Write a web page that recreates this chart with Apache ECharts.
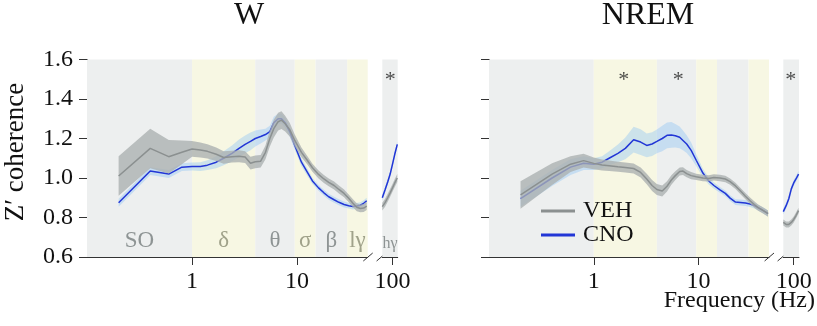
<!DOCTYPE html>
<html><head><meta charset="utf-8">
<script src="https://cdn.jsdelivr.net/npm/echarts@6/dist/echarts.min.js"></script>
<style>html,body{margin:0;padding:0;background:#fff}#c{width:817px;height:326px}</style>
</head><body><div id="c"></div>
<script>
// ---------- DATA ----------
// frequencies (Hz) of the main segment and of the high-gamma segment
const freqMain = [0.2,0.4,0.6,0.8,1.0,1.2,1.4,1.7,2.0,2.4,2.8,3.2,3.6,4.0,4.5,5.0,5.5,6.0,6.6,7.1,7.7,8.5,9.5,11,12.5,14,16,18,20,22.5,25,28,31,34,37,40,43,46];
const freqHG = [80,85,90,95,100,105,111];

// W (wake) : VEH mean / sem, CNO mean / sem
const wVehMean = [1.01,1.15,1.108,1.13,1.147,1.142,1.135,1.12,1.104,1.108,1.11,1.106,1.075,1.082,1.085,1.13,1.2,1.25,1.285,1.293,1.275,1.245,1.19,1.13,1.09,1.052,1.018,0.995,0.978,0.962,0.942,0.922,0.897,0.872,0.852,0.846,0.848,0.858];
const wVehSem  = [0.1,0.1,0.085,0.06,0.04,0.038,0.036,0.034,0.032,0.03,0.03,0.03,0.032,0.032,0.032,0.035,0.04,0.045,0.045,0.045,0.04,0.035,0.03,0.025,0.022,0.02,0.02,0.02,0.02,0.02,0.02,0.02,0.02,0.02,0.02,0.02,0.02,0.02];
const wCnoMean = [0.875,1.035,1.02,1.055,1.058,1.058,1.065,1.08,1.1,1.125,1.15,1.17,1.185,1.2,1.21,1.22,1.235,1.28,1.3,1.3,1.28,1.235,1.165,1.08,1.03,0.985,0.95,0.925,0.905,0.89,0.877,0.866,0.86,0.856,0.858,0.862,0.872,0.885];
const wCnoSem  = [0.02,0.02,0.02,0.02,0.02,0.022,0.025,0.03,0.035,0.04,0.045,0.045,0.045,0.04,0.035,0.03,0.03,0.03,0.025,0.025,0.025,0.025,0.022,0.02,0.018,0.016,0.015,0.015,0.015,0.015,0.015,0.015,0.015,0.015,0.015,0.015,0.015,0.015];
const wVehHG = [0.855,0.875,0.9,0.925,0.95,0.975,1.0];
const wVehHGSem = [0.02,0.02,0.02,0.02,0.02,0.02,0.02];
const wCnoHG = [0.9,0.94,0.98,1.02,1.07,1.12,1.17];
const wCnoHGSem = [0.015,0.015,0.015,0.015,0.015,0.015,0.015];

// NREM : VEH mean / sem, CNO mean / sem
const nVehMean = [0.914,1.02,1.07,1.088,1.074,1.066,1.062,1.057,1.053,1.048,1.028,0.995,0.962,0.942,0.934,0.958,0.99,1.012,1.033,1.035,1.022,1.012,1.006,1.0,0.998,1.003,1.0,0.995,0.982,0.96,0.935,0.908,0.885,0.866,0.85,0.84,0.83,0.82];
const nVehSem  = [0.07,0.055,0.04,0.035,0.03,0.028,0.026,0.025,0.025,0.025,0.025,0.027,0.028,0.028,0.028,0.026,0.024,0.022,0.02,0.02,0.018,0.018,0.016,0.016,0.016,0.016,0.016,0.016,0.016,0.016,0.016,0.016,0.016,0.016,0.016,0.016,0.016,0.016];
const nCnoMean = [0.895,1.0,1.055,1.075,1.07,1.08,1.1,1.125,1.15,1.194,1.182,1.165,1.172,1.185,1.2,1.216,1.218,1.214,1.206,1.19,1.172,1.14,1.09,1.025,0.985,0.962,0.94,0.922,0.898,0.878,0.876,0.873,0.868,0.86,0.85,0.84,0.83,0.82];
const nCnoSem  = [0.04,0.04,0.04,0.035,0.03,0.03,0.035,0.045,0.055,0.065,0.065,0.06,0.06,0.06,0.065,0.065,0.065,0.06,0.055,0.05,0.045,0.04,0.03,0.022,0.018,0.016,0.015,0.015,0.015,0.015,0.015,0.015,0.015,0.015,0.015,0.015,0.015,0.015];
const nVehHG = [0.775,0.765,0.765,0.775,0.79,0.81,0.835];
const nVehHGSem = [0.015,0.015,0.015,0.015,0.015,0.015,0.015];
const nCnoHG = [0.83,0.86,0.895,0.945,0.975,0.995,1.02];
const nCnoHGSem = [0.015,0.015,0.015,0.015,0.015,0.015,0.015];

// frequency bands
const bandNames = ['SO','δ','θ','σ','β','lγ'];
const bandEdges = [0.1,1,4,9.5,15,30,47];
const hgBandName = 'hγ';
const hgEdges = [80,112];

// significance markers (Hz)
const wStarsHG = [95];
const nStarsMain = [1.93,6.4];
const nStarsHG = [94];

// axis ticks
const xTicksMain = [1,10];
const xTicksHG = [100];
const yMin = 0.6, yMax = 1.6, yStep = 0.2;

// ---------- STYLE ----------
const SERIF = '"Liberation Serif", serif';
const C_GREYBG = '#edefef', C_YELBG = '#f7f7e3';
const C_VEH = '#8b9090', C_VEH_BAND = 'rgba(170,176,176,0.78)';
const C_CNO = '#2236d6', C_CNO_BAND = 'rgba(140,195,245,0.4)';
const AX = '#333';

const chart = echarts.init(document.getElementById('c'));

function meanBand(name, f, m, s, xi, col, bandCol, z){
  const rows = f.map((x,i)=>[x, m[i]-s[i], m[i]+s[i]]);
  return [
    {type:'custom', name:name+'_band', xAxisIndex:xi, yAxisIndex:xi, silent:true, z:z, clip:true,
     encode:{x:0, y:[1,2]}, data:rows,
     renderItem:function(params, api){
       if (params.dataIndex !== 0) return null;
       const up = rows.map(r=>api.coord([r[0], r[2]]));
       const lo = rows.map(r=>api.coord([r[0], r[1]])).reverse();
       return {type:'polygon', shape:{points:up.concat(lo)}, style:{fill:bandCol}};
     }},
    {type:'line', name:name, xAxisIndex:xi, yAxisIndex:xi, symbol:'none', silent:true, z:z+1,
     lineStyle:{color:col, width:1.5}, itemStyle:{color:col}, data:f.map((x,i)=>[x, m[i]])}
  ];
}

function bgSeries(xi, edges, names, showLabel, fontSize){
  const data = names.map((n,i)=>{
    const grey = i % 2 === 0;
    return [{xAxis:edges[i], yAxis:yMin, name:n, itemStyle:{color: grey?C_GREYBG:C_YELBG},
             label:{color: grey?'#8e9494':'#a0a28a'}}, {xAxis:edges[i+1], yAxis:yMax}];
  });
  return {type:'line', xAxisIndex:xi, yAxisIndex:xi, data:[], silent:true, z:1,
    markArea:{silent:true, label:{show:showLabel, position:'insideBottom', distance:5, fontSize:fontSize, fontFamily:SERIF}, data:data}};
}

function stars(xi, f){
  return {type:'scatter', xAxisIndex:xi, yAxisIndex:xi, symbol:'circle', symbolSize:1, itemStyle:{color:'rgba(0,0,0,0)'}, silent:true, z:10,
    label:{show:true, position:'inside', formatter:'*', fontSize:22, fontFamily:SERIF, color:'#222'},
    data:f.map(x=>[x, 1.495])};
}

function xMain(gi, ticks, min, max){
  return {type:'log', logBase:10, gridIndex:gi, min:min, max:max,
    axisLine:{show:true, lineStyle:{color:AX}},
    axisTick:{show:true, length:8, lineStyle:{color:AX}, customValues:ticks},
    axisLabel:{customValues:ticks, fontSize:24, fontFamily:SERIF, color:'#111', margin:13, formatter:v=>String(v)},
    splitLine:{show:false}, minorTick:{show:false}};
}
function yAx(gi, showAxis, showLabel){
  return {type:'value', gridIndex:gi, min:yMin, max:yMax, interval:yStep,
    axisLine:{show:showAxis, lineStyle:{color:AX}},
    axisTick:{show:showAxis, length:8, lineStyle:{color:AX}},
    axisLabel:{show:showLabel, fontSize:24, fontFamily:SERIF, color:'#111', margin:14, formatter:v=>v.toFixed(1)},
    splitLine:{show:false}};
}

const series = [].concat(
  bgSeries(0, bandEdges, bandNames, true, 23),
  bgSeries(1, hgEdges, [hgBandName], true, 16),
  bgSeries(2, bandEdges, bandNames, false, 23),
  bgSeries(3, hgEdges, [hgBandName], false, 16),
  meanBand('CNO', freqMain, wCnoMean, wCnoSem, 0, C_CNO, C_CNO_BAND, 2),
  meanBand('VEH', freqMain, wVehMean, wVehSem, 0, C_VEH, C_VEH_BAND, 4),
  meanBand('CNO', freqHG, wCnoHG, wCnoHGSem, 1, C_CNO, C_CNO_BAND, 2),
  meanBand('VEH', freqHG, wVehHG, wVehHGSem, 1, C_VEH, C_VEH_BAND, 4),
  meanBand('CNO', freqMain, nCnoMean, nCnoSem, 2, C_CNO, C_CNO_BAND, 2),
  meanBand('VEH', freqMain, nVehMean, nVehSem, 2, C_VEH, C_VEH_BAND, 4),
  meanBand('CNO', freqHG, nCnoHG, nCnoHGSem, 3, C_CNO, C_CNO_BAND, 2),
  meanBand('VEH', freqHG, nVehHG, nVehHGSem, 3, C_VEH, C_VEH_BAND, 4),
  stars(1, wStarsHG), stars(2, nStarsMain), stars(3, nStarsHG)
);

const baseGraphic = [
  {id:'tW', type:'text', x:249, y:16, style:{text:'W', font:'32px "Liberation Serif"', fill:'#111', textAlign:'center', textVerticalAlign:'middle'}},
  {id:'tN', type:'text', x:648, y:16, style:{text:'NREM', font:'32px "Liberation Serif"', fill:'#111', textAlign:'center', textVerticalAlign:'middle'}},
  {id:'yname', type:'text', x:16, y:152, rotation:Math.PI/2, style:{text:'Z′ coherence', font:'27px "Liberation Serif"', fill:'#111', textAlign:'center', textVerticalAlign:'middle'}},
  {id:'xname', type:'text', x:815, y:301, style:{text:'Frequency (Hz)', font:'24px "Liberation Serif"', fill:'#111', textAlign:'right', textVerticalAlign:'middle'}}
];

chart.setOption({
  animation:false,
  grid:[
    {left:87, top:59.5, width:280.7, height:197.5},
    {left:382.3, top:59.5, width:15.4, height:197.5},
    {left:489, top:59.5, width:280, height:197.5},
    {left:783.3, top:59.5, width:15.7, height:197.5}
  ],
  xAxis:[
    xMain(0, xTicksMain, bandEdges[0], bandEdges[bandEdges.length-1]),
    xMain(1, xTicksHG, hgEdges[0], hgEdges[1]),
    xMain(2, xTicksMain, bandEdges[0], bandEdges[bandEdges.length-1]),
    xMain(3, xTicksHG, hgEdges[0], hgEdges[1])
  ],
  yAxis:[ yAx(0,true,true), yAx(1,false,false), yAx(2,true,false), yAx(3,false,false) ],
  legend:{data:['VEH','CNO'], orient:'vertical', left:541, top:199, itemWidth:34, itemHeight:3, itemGap:0, icon:'rect',
    padding:0, selectedMode:false, textStyle:{fontSize:24, fontFamily:SERIF, color:'#111', padding:[0,0,0,3]}},
  graphic:{elements:baseGraphic},
  series:series
});

// axis-break marks at the ends of each segment
const extra = [];
[[0,1],[2,3]].forEach(([a,b],k)=>{
  const p1 = chart.convertToPixel({gridIndex:a}, [bandEdges[bandEdges.length-1], yMin]);
  const p2 = chart.convertToPixel({gridIndex:b}, [hgEdges[0], yMin]);
  [p1[0]+0.3, p2[0]-1].forEach((x,j)=>{
    extra.push({id:'brk'+k+'_'+j, type:'line', shape:{x1:x-4.7, y1:p1[1]+4, x2:x+4.7, y2:p1[1]-4}, style:{stroke:AX, lineWidth:1}});
  });
});
chart.setOption({graphic:{elements:baseGraphic.concat(extra)}});
</script></body></html>
